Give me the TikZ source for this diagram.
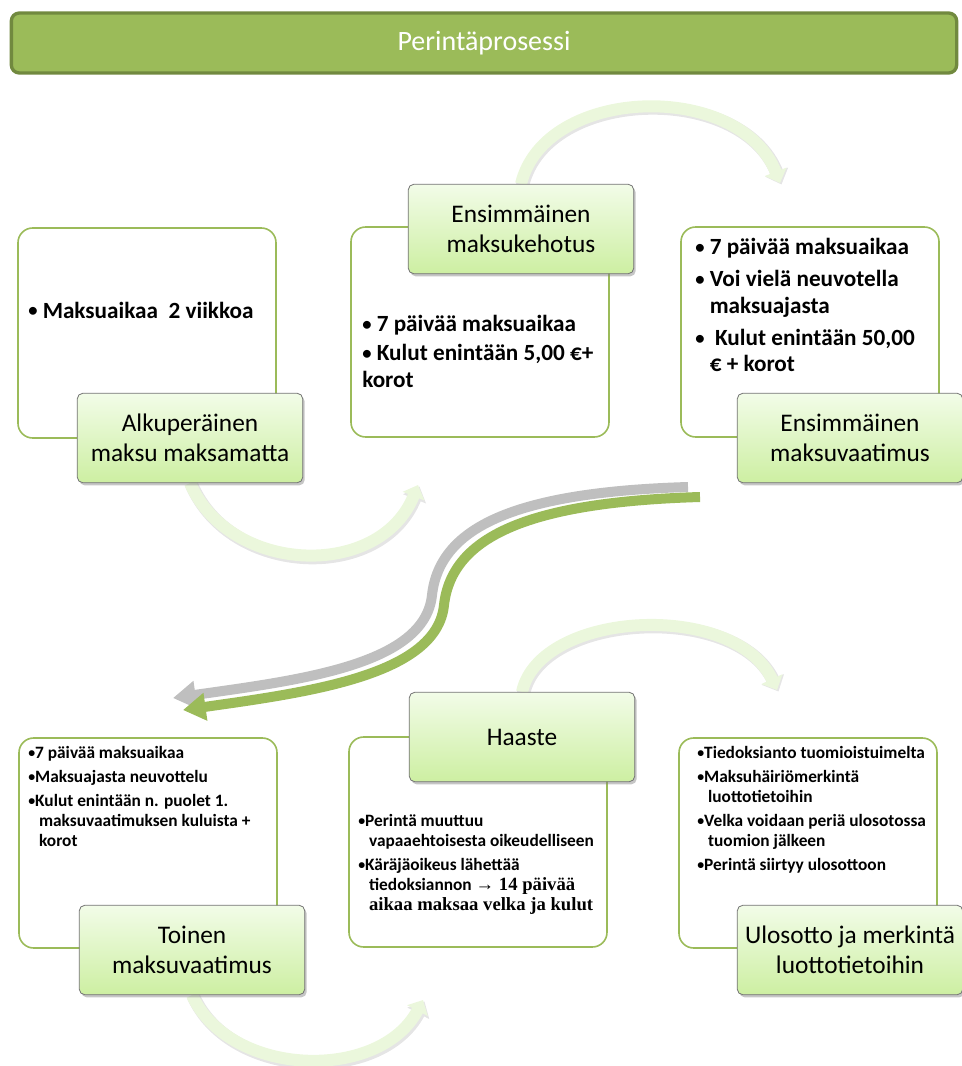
\documentclass[tikz,border=0pt]{standalone}
\usepackage{fontspec}
\usepackage{graphicx}
\setmainfont{Carlito}
\newfontfamily\timesfont{Liberation Serif}
\usetikzlibrary{arrows.meta,shadows,backgrounds}
\definecolor{barfill}{HTML}{9BBB59}
\definecolor{baredge}{HTML}{71893F}
\definecolor{boxedge}{HTML}{9BBB59}
\definecolor{tagtop}{HTML}{F2FCE8}
\definecolor{tagbottom}{HTML}{CDEFA2}
\definecolor{loopgreen}{HTML}{EBF7DC}
\definecolor{sgray}{HTML}{BFBFBF}
\definecolor{sgreen}{HTML}{9BBB59}
\newcommand\bul{\raisebox{0.1ex}{\scalebox{0.8}{•}}}
\newcommand\bulpad{\hphantom{\bul\ }}
\newcommand\bulpadtight{\hphantom{\bul}}

\begin{document}
\begin{tikzpicture}[x=0.75pt,y=-0.75pt,bar/.style={draw=baredge,line width=2.5pt,fill=barfill,rounded corners=6pt,minimum width=709pt,minimum height=45pt,text=white,font=\fontsize{21}{25}\selectfont},infobox/.style={draw=boxedge,line width=1.2pt,rounded corners=11pt,fill=white,minimum width=193.5pt,minimum height=157.5pt},tag/.style={draw=black!55,line width=.6pt,rounded corners=4pt,top color=tagtop,bottom color=tagbottom,drop shadow={shadow xshift=1.5pt,shadow yshift=-2pt,opacity=.45},minimum width=169pt,minimum height=67pt,align=center,font=\fontsize{19}{22.5}\selectfont},bigtxt/.style={anchor=north west,align=left,inner sep=0pt,font=\fontsize{17.4}{20}\selectfont\bfseries},smalltxt/.style={anchor=north west,align=left,inner sep=0pt,font=\fontsize{13}{15}\selectfont\bfseries},loopshade/.style={line width=10pt,black!10,-{Triangle[width=18pt,length=10pt]}},loop/.style={line width=9pt,loopgreen,-{Triangle[width=17pt,length=9pt]}},sarrow/.style={line width=7.5pt,-{Triangle[width=20pt,length=17pt]}}]
\useasboundingbox (0,0) rectangle (962,1066);
\node[bar] (title) at (484,43) {Perintäprosessi};
% free ends of the loops and the S arrow
\coordinate (a1e) at (418,485);
\coordinate (a2e) at (780,183);
\coordinate (a3e) at (777,690);
\coordinate (a4e) at (423,1000);
\coordinate (gys) at (688,487);
\coordinate (gye) at (173,698);
\coordinate (grs) at (700,497);
\coordinate (gre) at (183,710);
\node[infobox] (box1) at (147,333) {};
\node[infobox] (box2) at (480,332) {};
\node[infobox] (box3) at (810,332) {};
\node[infobox] (box4) at (148,843) {};
\node[infobox] (box5) at (478,842) {};
\node[infobox] (box6) at (808,843) {};
\node[tag] (lab1) at (190,438) {Alkuperäinen\\maksu maksamatta};
\node[tag] (lab2) at (521,229) {Ensimmäinen\\maksukehotus};
\node[tag] (lab3) at (850,438) {Ensimmäinen\\maksuvaatimus};
\node[tag] (lab4) at (192,950) {Toinen\\maksuvaatimus};
\node[tag] (lab5) at (522,737) {Haaste};
\node[tag] (lab6) at (850,950) {Ulosotto ja merkintä\\luottotietoihin};
\begin{scope}[on background layer]
\draw[loopshade] ([shift={(1.5,1.5)}]lab1.south) .. controls (231,577) and (381,582) .. ([shift={(1.5,1.5)}]a1e);
\draw[loop] (lab1.south) .. controls (230,575) and (380,580) .. (a1e);
\draw[loopshade] ([shift={(1.5,1.5)}]lab2.north) .. controls (546,87) and (741,82) .. ([shift={(1.5,1.5)}]a2e);
\draw[loop] (lab2.north) .. controls (545,85) and (740,80) .. (a2e);
\draw[loopshade] ([shift={(1.5,1.5)}]lab5.north) .. controls (541,612) and (736,602) .. ([shift={(1.5,1.5)}]a3e);
\draw[loop] (lab5.north) .. controls (540,610) and (735,600) .. (a3e);
\draw[loopshade] ([shift={(1.5,1.5)}]lab4.south) .. controls (231,1080) and (381,1084) .. ([shift={(1.5,1.5)}]a4e);
\draw[loop] (lab4.south) .. controls (230,1078) and (380,1082) .. (a4e);
\end{scope}
\node[bigtxt,anchor=west] (t1) at (28,310) {\bul\ Maksuaikaa\ \ 2 viikkoa};
\node[bigtxt] (t2) at (362,315) {\bul\ 7 päivää maksuaikaa\\[2pt]
\bul\ Kulut enintään 5,00 €+\\
korot};
\node[bigtxt] (t3) at (695,238) {\bul\ 7 päivää maksuaikaa\\[4pt]
\bul\ Voi vielä neuvotella\\
\bulpad maksuajasta\\[4pt]
\bul\ \ Kulut enintään 50,00\\
\bulpad € + korot};
\node[smalltxt] (t4) at (28,746) {\bul7 päivää maksuaikaa\\[3pt]
\bul Maksuajasta neuvottelu\\[3pt]
\bul Kulut enintään n. puolet 1.\\
\bulpadtight\ maksuvaatimuksen kuluista +\\
\bulpadtight\ korot};
\node[smalltxt] (t5) at (358,814) {\bul Perintä muuttuu\\
\bulpadtight\ vapaaehtoisesta oikeudelliseen\\[3pt]
\bul Käräjäoikeus lähettää\\
\bulpadtight\ tiedoksiannon {\timesfont\fontsize{14}{15}\selectfont → 14 päivää}\\
\bulpadtight\ {\timesfont\fontsize{14}{15}\selectfont aikaa maksaa velka ja kulut}};
\node[smalltxt] (t6) at (697,746) {\bul Tiedoksianto tuomioistuimelta\\[3pt]
\bul Maksuhäiriömerkintä\\
\bulpadtight\ luottotietoihin\\[3pt]
\bul Velka voidaan periä ulosotossa\\
\bulpadtight\ tuomion jälkeen\\[3pt]
\bul Perintä siirtyy ulosottoon};
\draw[sarrow,sgray] (gys) .. controls (520,492) and (440,525) .. (432,595) .. controls (425,665) and (300,680) .. (gye);
\draw[sarrow,sgreen] (grs) .. controls (532,502) and (452,535) .. (444,605) .. controls (437,675) and (310,692) .. (gre);
\end{tikzpicture}
\end{document}
